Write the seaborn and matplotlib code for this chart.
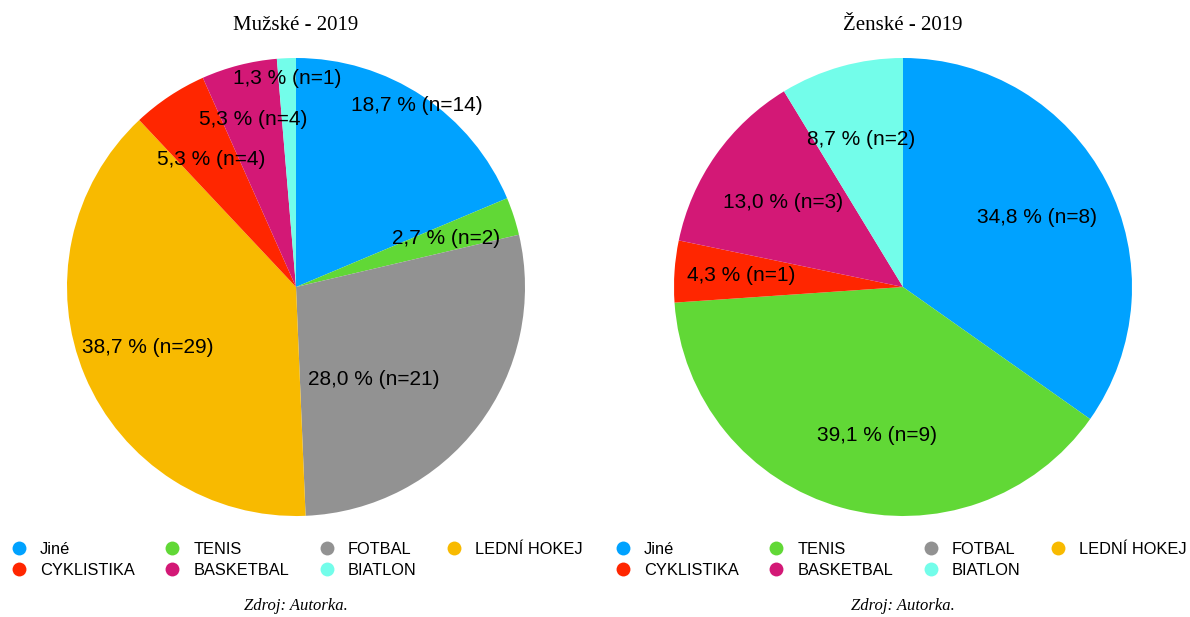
import matplotlib
matplotlib.use("Agg")
import matplotlib.pyplot as plt
from matplotlib.lines import Line2D
import numpy as np
import seaborn as sns

kategorie = ["Jiné", "TENIS", "FOTBAL", "LEDNÍ HOKEJ", "CYKLISTIKA", "BASKETBAL", "BIATLON"]
barvy = ["#00A2FF", "#61D836", "#929292", "#F8BA00", "#FF2600", "#D31876", "#73FDEA"]
muzi = [14, 2, 21, 29, 4, 4, 1]
zeny = [8, 9, 0, 0, 1, 3, 2]

# umisteni popisku (polomer, posun uhlu ve stupnich po smeru hodin)
muzi_r = [0.95, 0.69, 0.53, 0.70, 0.67, 0.755, 0.91]
muzi_posun = [0, 0, 12.8, 0.5, 0, 0, 0]
zeny_r = [0.66, 0.66, 0.6, 0.6, 0.71, 0.64, 0.67]
zeny_posun = [0, -5.7, 0, 0, 0, 0, 0]

sns.set_theme(style="white")
plt.rcParams['font.family'] = ['Liberation Sans', 'DejaVu Sans']
plt.rcParams['text.color'] = 'black'

fig = plt.figure(figsize=(11.9, 6.17), dpi=100)
W, H = 1190, 617


def kolac(cx, cy, R, hodnoty, polomery, posuny, titulek, leg_x):
    ax = fig.add_axes([(cx - R) / W, (H - cy - R) / H, 2 * R / W, 2 * R / H])
    wedges, _ = ax.pie(hodnoty, colors=barvy, startangle=90, counterclock=False,
                       wedgeprops=dict(linewidth=0))
    celkem = sum(hodnoty)
    for w, v, r, p in zip(wedges, hodnoty, polomery, posuny):
        if v == 0:
            continue
        uhel = np.deg2rad((w.theta1 + w.theta2) / 2 - p)
        txt = f"{v / celkem * 100:.1f}".replace(".", ",") + f" % (n={v})"
        ax.text(r * np.cos(uhel), r * np.sin(uhel), txt, ha="center", va="center",
                fontsize=15, color="black")
    ax.set_xlim(-1, 1)
    ax.set_ylim(-1, 1)
    ax.set_aspect("equal")
    ax.axis("off")
    fig.text(cx / W, 1 - 25 / H, titulek, ha="center", va="center",
             family="Liberation Serif", fontsize=15, color="black")

    handles = [Line2D([], [], marker="o", linestyle="", markersize=10,
                      markerfacecolor=c, markeredgewidth=0) for c in barvy]
    order = [0, 4, 1, 5, 2, 6, 3]
    fig.legend([handles[i] for i in order], [kategorie[i] for i in order],
               loc="upper left", bbox_to_anchor=((leg_x - 8.2) / W, 1 - 541.5 / H),
               ncol=4, frameon=False, fontsize=11.8, handlelength=1.0,
               handletextpad=0.78, columnspacing=1.8, labelspacing=0.39,
               borderpad=0, borderaxespad=0, labelcolor="black")
    fig.text(cx / W, 1 - 606 / H, "Zdroj: Autorka.", ha="center", va="center",
             family="Liberation Serif", style="italic", fontsize=12, color="black")


kolac(296, 287, 229, muzi, muzi_r, muzi_posun, "Mužské - 2019", 19)
kolac(903, 287, 229, zeny, zeny_r, zeny_posun, "Ženské - 2019", 623)

fig.savefig("out.png", dpi=100)
